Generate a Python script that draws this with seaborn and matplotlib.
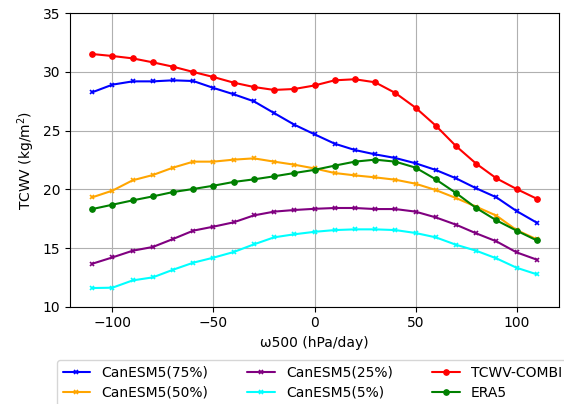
import numpy as np
import pandas as pd
import matplotlib
matplotlib.use("Agg")
import matplotlib.pyplot as plt
import seaborn as sns

omega = [-110, -100, -90, -80, -70, -60, -50, -40, -30, -20, -10, 0,
         10, 20, 30, 40, 50, 60, 70, 80, 90, 100, 110]

can75 = [28.27, 28.92, 29.2, 29.2, 29.29, 29.23, 28.64, 28.1, 27.5, 26.5, 25.51, 24.69,
         23.89, 23.35, 22.98, 22.67, 22.22, 21.65, 20.94, 20.09, 19.32, 18.15, 17.16]
can50 = [19.32, 19.89, 20.77, 21.22, 21.85, 22.36, 22.36, 22.53, 22.64, 22.36, 22.1, 21.78,
         21.39, 21.19, 21.02, 20.82, 20.48, 19.94, 19.26, 18.52, 17.76, 16.53, 15.74]
can25 = [13.66, 14.2, 14.77, 15.09, 15.77, 16.48, 16.82, 17.19, 17.78, 18.1, 18.24, 18.34,
         18.41, 18.41, 18.32, 18.32, 18.1, 17.61, 16.99, 16.25, 15.57, 14.63, 14.01]
can5 = [11.59, 11.62, 12.24, 12.5, 13.15, 13.75, 14.18, 14.66, 15.31, 15.91, 16.17, 16.38,
        16.53, 16.59, 16.59, 16.53, 16.28, 15.91, 15.28, 14.77, 14.12, 13.32, 12.76]
tcwv = [31.53, 31.36, 31.16, 30.82, 30.45, 30.0, 29.57, 29.09, 28.72, 28.47, 28.55, 28.85,
        29.29, 29.38, 29.12, 28.21, 26.96, 25.43, 23.69, 22.19, 20.94, 20.03, 19.2]
era5 = [18.32, 18.69, 19.06, 19.4, 19.77, 20.03, 20.31, 20.63, 20.85, 21.11, 21.39, 21.66,
        22.02, 22.36, 22.53, 22.36, 21.85, 20.85, 19.69, 18.41, 17.36, 16.48, 15.65]

labels = ["CanESM5(75%)", "CanESM5(50%)", "CanESM5(25%)", "CanESM5(5%)", "TCWV-COMBI", "ERA5"]
series = [can75, can50, can25, can5, tcwv, era5]
colors = ["blue", "orange", "purple", "cyan", "red", "green"]
markers = ["x", "x", "x", "x", "o", "o"]

sns.set_style("ticks", rc={"axes.grid": True, "grid.color": "#b0b0b0",
                           "axes.edgecolor": "black", "xtick.color": "black",
                           "ytick.color": "black", "axes.labelcolor": "black",
                           "text.color": "black"})
plt.rcParams["font.family"] = ["DejaVu Sans"]

fig = plt.figure(figsize=(5.64, 4.04), dpi=100)
ax = fig.add_axes([70 / 564, 1 - 306.7 / 404, (559 - 70) / 564, (306.7 - 13.3) / 404])

for lab, vals, c, m in zip(labels, series, colors, markers):
    df = pd.DataFrame({"omega": omega, "val": vals})
    sns.lineplot(data=df, x="omega", y="val", ax=ax, color=c, marker=m,
                 markersize=3.5 if m == "x" else 4, markeredgecolor=c,
                 markeredgewidth=1.2 if m == "x" else 0.8,
                 linewidth=1.5, label=lab, legend=False)

ax.set_ylim(10, 35)
ax.set_yticks([10, 15, 20, 25, 30, 35])
ax.set_xticks([-100, -50, 0, 50, 100])
ax.set_xlabel("ω500 (hPa/day)", fontsize=10)
ax.set_ylabel("TCWV (kg/m$^2$)", fontsize=10)
ax.tick_params(labelsize=10)

handles, labs = ax.get_legend_handles_labels()
fig.legend(handles, labs, ncol=3,
           loc="upper left", bbox_to_anchor=(57 / 564, 1 - 360 / 404),
           bbox_transform=fig.transFigure, fontsize=10, frameon=True,
           borderaxespad=0, columnspacing=2.8, labelspacing=0.45)

fig.savefig("out.png", dpi=100)
